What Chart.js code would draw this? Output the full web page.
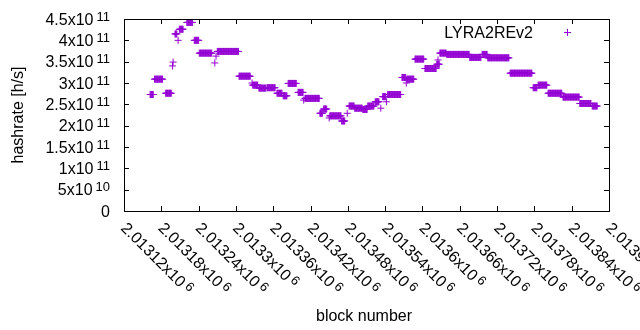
<!DOCTYPE html>
<html>
<head>
<meta charset="utf-8">
<script src="https://cdn.jsdelivr.net/npm/chart.js@4"></script>
<style>
  body { margin: 0; background: #fff; }
  #wrap { width: 640px; height: 330px; }
</style>
</head>
<body>
<div id="wrap"><canvas id="chart1" width="640" height="330"></canvas></div>
<script>
// runs of blocks with the same hashrate (first block, last block, h/s)
const runFirst = [2013162, 2013169, 2013187, 2013198, 2013199, 2013202, 2013207, 2013209, 2013221, 2013233,
  2013241, 2013266, 2013268, 2013270, 2013305, 2013326, 2013327, 2013337, 2013350, 2013366,
  2013376, 2013384, 2013400, 2013409, 2013411, 2013435, 2013441, 2013450, 2013451, 2013470,
  2013479, 2013482, 2013491, 2013504, 2013512, 2013524, 2013533, 2013536, 2013542, 2013544,
  2013567, 2013574, 2013575, 2013588, 2013604, 2013623, 2013625, 2013628, 2013639, 2013676,
  2013696, 2013705, 2013741, 2013778, 2013786, 2013802, 2013826, 2013853, 2013873];
const runLast = [2013167, 2013182, 2013196, 2013198, 2013199, 2013205, 2013207, 2013215, 2013230, 2013240,
  2013261, 2013266, 2013268, 2013304, 2013323, 2013326, 2013335, 2013348, 2013363, 2013374,
  2013382, 2013397, 2013408, 2013409, 2013434, 2013439, 2013446, 2013450, 2013469, 2013475,
  2013479, 2013490, 2013503, 2013511, 2013522, 2013530, 2013533, 2013541, 2013542, 2013565,
  2013573, 2013574, 2013586, 2013602, 2013622, 2013627, 2013625, 2013638, 2013675, 2013694,
  2013704, 2013739, 2013776, 2013784, 2013800, 2013824, 2013852, 2013871, 2013881];
const runRate = [2.73e11, 3.09e11, 2.76e11, 3.40e11, 3.49e11, 4.15e11, 4.00e11, 4.26e11, 4.42e11, 4.00e11,
  3.70e11, 3.47e11, 3.63e11, 3.74e11, 3.16e11, 3.00e11, 2.95e11, 2.88e11, 2.89e11, 2.76e11,
  2.70e11, 2.99e11, 2.78e11, 2.60e11, 2.64e11, 2.29e11, 2.39e11, 2.18e11, 2.23e11, 2.11e11,
  2.29e11, 2.46e11, 2.41e11, 2.38e11, 2.46e11, 2.56e11, 2.41e11, 2.68e11, 2.56e11, 2.73e11,
  3.13e11, 3.00e11, 3.09e11, 3.56e11, 3.34e11, 3.44e11, 3.54e11, 3.70e11, 3.67e11, 3.60e11,
  3.67e11, 3.59e11, 3.23e11, 2.89e11, 2.95e11, 2.76e11, 2.67e11, 2.52e11, 2.46e11];

const xTicks = [2013120, 2013180, 2013240, 2013300, 2013360, 2013420, 2013480, 2013540, 2013600,
  2013660, 2013720, 2013780, 2013840, 2013900];
const xTickLabels = ['2.01312', '2.01318', '2.01324', '2.0133', '2.01336', '2.01342', '2.01348',
  '2.01354', '2.0136', '2.01366', '2.01372', '2.01378', '2.01384', '2.0139'];
const yTicks = [0, 5e10, 1e11, 1.5e11, 2e11, 2.5e11, 3e11, 3.5e11, 4e11, 4.5e11];
const yTickLabels = ['0', '5', '1', '1.5', '2', '2.5', '3', '3.5', '4', '4.5'];
const yTickExp = ['', '10', '11', '11', '11', '11', '11', '11', '11', '11'];

const seriesName = 'LYRA2REv2';
const purple = '#9400d3';
const FONT = "'Liberation Sans', Arial, sans-serif";

// one point per block
const points = [];
runFirst.forEach((b0, i) => {
    for (let b = b0; b <= runLast[i]; b++) points.push({ x: b, y: runRate[i] });
});

function cross(ctx, x, y, r) {
    ctx.beginPath();
    ctx.moveTo(x - r, y); ctx.lineTo(x + r, y);
    ctx.moveTo(x, y - r); ctx.lineTo(x, y + r);
    ctx.stroke();
}

// gnuplot style frame, ticks and labels with superscripts
const frame = {
    id: 'frame',
    afterDraw(chart) {
        const ctx = chart.ctx, a = chart.chartArea;
        const xs = chart.scales.x, ys = chart.scales.y;
        ctx.save();
        ctx.strokeStyle = '#000';
        ctx.fillStyle = '#000';
        ctx.lineWidth = 1;
        ctx.strokeRect(a.left + 0.5, a.top + 0.5, a.right - a.left, a.bottom - a.top);

        ctx.beginPath();
        yTicks.forEach(v => {
            const py = Math.round(ys.getPixelForValue(v)) + 0.5;
            ctx.moveTo(a.left, py); ctx.lineTo(a.left + 5, py);
            ctx.moveTo(a.right, py); ctx.lineTo(a.right - 5, py);
        });
        xTicks.forEach(v => {
            const px = Math.round(xs.getPixelForValue(v)) + 0.5;
            ctx.moveTo(px, a.bottom); ctx.lineTo(px, a.bottom - 5);
            ctx.moveTo(px, a.top); ctx.lineTo(px, a.top + 5);
        });
        ctx.stroke();

        // y labels
        ctx.textBaseline = 'alphabetic';
        yTicks.forEach((v, i) => {
            const py = ys.getPixelForValue(v);
            const base = py + 5.5;
            let right = 110;
            ctx.textAlign = 'right';
            if (yTickExp[i]) {
                ctx.font = '13px ' + FONT;
                ctx.fillText(yTickExp[i], right, base - 4);
                right -= ctx.measureText(yTickExp[i]).width + 3;
                ctx.font = '16px ' + FONT;
                ctx.fillText(yTickLabels[i] + 'x10', right, base);
            } else {
                ctx.font = '16px ' + FONT;
                ctx.fillText(yTickLabels[i], right, base);
            }
        });

        // x labels, rotated
        xTicks.forEach((v, i) => {
            const px = xs.getPixelForValue(v);
            ctx.save();
            ctx.translate(px, 225);
            ctx.rotate(Math.PI / 4);
            ctx.textAlign = 'left';
            ctx.font = '16px ' + FONT;
            const m = xTickLabels[i] + 'x10';
            ctx.fillText(m, 0, 5.5);
            const w = ctx.measureText(m).width;
            ctx.font = '13px ' + FONT;
            ctx.fillText('6', w + 3, 1.5);
            ctx.restore();
        });

        // axis titles
        ctx.font = '16px ' + FONT;
        ctx.textAlign = 'center';
        ctx.fillText('block number', 364, 321);
        ctx.save();
        ctx.translate(23, (a.top + a.bottom) / 2);
        ctx.rotate(-Math.PI / 2);
        ctx.fillText('hashrate [h/s]', 0, 0);
        ctx.restore();

        // key
        ctx.textAlign = 'right';
        ctx.fillText(seriesName, 533, 37.5);
        ctx.strokeStyle = purple;
        cross(ctx, 567.5, 32.5, 3.5);
        ctx.restore();
    }
};

new Chart(document.getElementById('chart1'), {
    type: 'scatter',
    data: {
        datasets: [{
            label: seriesName,
            data: points,
            pointStyle: 'cross',
            pointRadius: 3.5,
            pointBorderWidth: 1,
            borderColor: purple,
            backgroundColor: purple,
            showLine: false
        }]
    },
    options: {
        responsive: false,
        animation: false,
        events: [],
        layout: { padding: { left: 124, right: 31, top: 19, bottom: 119 } },
        plugins: { legend: { display: false }, tooltip: { enabled: false } },
        scales: {
            x: { type: 'linear', display: false, min: 2013120, max: 2013900 },
            y: { display: false, min: 0, max: 4.5e11 }
        }
    },
    plugins: [frame]
});
</script>
</body>
</html>
